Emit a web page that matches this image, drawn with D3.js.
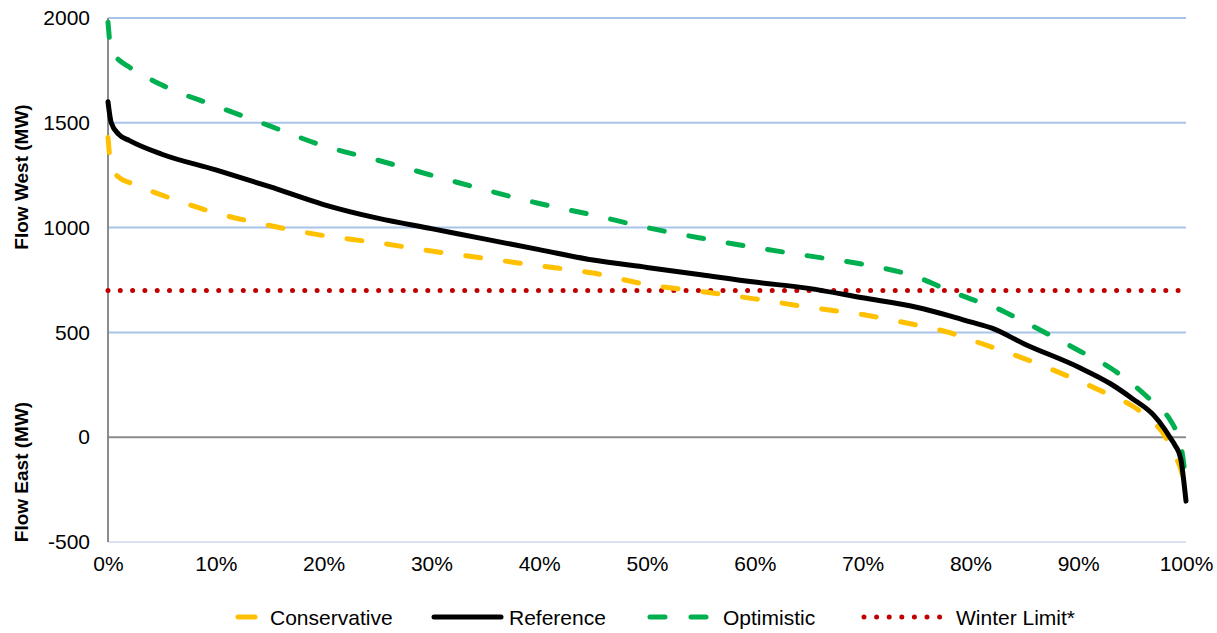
<!DOCTYPE html>
<html>
<head>
<meta charset="utf-8">
<script src="https://cdn.jsdelivr.net/npm/d3@7"></script>
<style>
  html, body { margin: 0; padding: 0; background: #fff; }
  svg { display: block; }
  text { font-family: "Liberation Sans", Arial, sans-serif; fill: #000; }
</style>
</head>
<body>
<svg id="chart" width="1217" height="633"></svg>
<script>
// ---- data ----
const percentiles = [0, 0.3, 1, 2, 5, 10, 15, 20, 25, 30, 35, 40, 45, 50, 55, 60, 65, 70, 75, 78, 80, 82, 85, 90, 93, 95, 97, 98, 98.5, 99, 99.5, 100];
const conservative = [1430, 1290, 1240, 1215, 1155, 1070, 1010, 962, 928, 888, 853, 818, 783, 728, 695, 660, 620, 585, 535, 500, 465, 430, 375, 270, 200, 150, 70, 10, -40, -90, -150, -250];
const reference    = [1600, 1500, 1445, 1415, 1350, 1275, 1195, 1110, 1045, 995, 945, 895, 845, 810, 775, 740, 710, 665, 620, 580, 550, 520, 445, 335, 255, 185, 105, 40, 0, -40, -100, -305];
const optimistic   = [1980, 1840, 1800, 1765, 1680, 1580, 1485, 1390, 1322, 1250, 1180, 1115, 1060, 1000, 950, 905, 865, 825, 765, 700, 660, 625, 550, 415, 330, 255, 165, 120, 85, 40, -30, -215];
const winterLimit = 700;
const yTicks = [-500, 0, 500, 1000, 1500, 2000];
const xTicks = [0, 10, 20, 30, 40, 50, 60, 70, 80, 90, 100];
const legendLabels = ["Conservative", "Reference", "Optimistic", "Winter Limit*"];

// ---- layout ----
const svg = d3.select("#chart");
const x = d3.scaleLinear().domain([0, 100]).range([108, 1186]);
const y = d3.scaleLinear().domain([-500, 2000]).range([542, 18]);

const colors = { cons: "#FFC000", ref: "#000000", opt: "#00B050", lim: "#C00000" };
const dashPat = "15,25";
const dotPat = "0,12.3";
const fontSize = "21px";

// gridlines
svg.append("g").selectAll("line").data(yTicks.filter(d => d !== 0)).join("line")
  .attr("x1", x(0)).attr("x2", x(100))
  .attr("y1", d => y(d)).attr("y2", d => y(d))
  .attr("stroke", d => d === -500 ? "#D9E2F3" : "#A9C4EB")
  .attr("stroke-width", 2);

// zero line
svg.append("line").attr("x1", x(0)).attr("x2", x(100))
  .attr("y1", y(0)).attr("y2", y(0))
  .attr("stroke", "#8C8C8C").attr("stroke-width", 2);

// y axis line
svg.append("line").attr("x1", x(0)).attr("x2", x(0))
  .attr("y1", y(2000)).attr("y2", y(-500))
  .attr("stroke", "#8C8C8C").attr("stroke-width", 2);

// y axis tick labels
const yAxis = d3.axisLeft(y).tickValues(yTicks).tickSize(0).tickPadding(0).tickFormat(d => String(d));
const gy = svg.append("g").attr("transform", `translate(${x(0) - 18},0)`).call(yAxis);
gy.select(".domain").remove();
gy.selectAll("text").style("font-size", fontSize).style("font-family", "Liberation Sans, Arial, sans-serif").attr("fill", "#000");

// x axis tick labels
const xAxis = d3.axisBottom(x).tickValues(xTicks).tickSize(0).tickPadding(0).tickFormat(d => d + "%");
const gx = svg.append("g").attr("transform", `translate(0,${y(-500) + 14})`).call(xAxis);
gx.select(".domain").remove();
gx.selectAll("text").style("font-size", fontSize).style("font-family", "Liberation Sans, Arial, sans-serif").attr("fill", "#000");

// axis titles
svg.append("text").attr("transform", `translate(28,${177}) rotate(-90)`)
  .attr("text-anchor", "middle").style("font-size", "19px").style("font-weight", "bold")
  .text("Flow West (MW)");
svg.append("text").attr("transform", `translate(28,${472}) rotate(-90)`)
  .attr("text-anchor", "middle").style("font-size", "19px").style("font-weight", "bold")
  .text("Flow East (MW)");

// winter limit
svg.append("line").attr("x1", x(0)).attr("x2", x(100))
  .attr("y1", y(winterLimit)).attr("y2", y(winterLimit))
  .attr("stroke", colors.lim).attr("stroke-width", 5)
  .attr("stroke-linecap", "round").attr("stroke-dasharray", dotPat);

// series lines
const line = d3.line().x(d => x(d[0])).y(d => y(d[1])).curve(d3.curveMonotoneX);
const mk = vals => percentiles.map((p, i) => [p, vals[i]]);

svg.append("path").datum(mk(conservative)).attr("d", line)
  .attr("fill", "none").attr("stroke", colors.cons).attr("stroke-width", 5)
  .attr("stroke-linecap", "round").attr("stroke-dasharray", dashPat);
svg.append("path").datum(mk(optimistic)).attr("d", line)
  .attr("fill", "none").attr("stroke", colors.opt).attr("stroke-width", 5)
  .attr("stroke-linecap", "round").attr("stroke-dasharray", dashPat);
svg.append("path").datum(mk(reference)).attr("d", line)
  .attr("fill", "none").attr("stroke", colors.ref).attr("stroke-width", 5)
  .attr("stroke-linecap", "round").attr("stroke-linejoin", "round");

// legend
const ly = 617;
const lg = svg.append("g");
// Conservative
lg.append("line").attr("x1", 238).attr("x2", 255).attr("y1", ly).attr("y2", ly)
  .attr("stroke", colors.cons).attr("stroke-width", 5).attr("stroke-linecap", "round");
lg.append("text").attr("x", 270).attr("y", ly + 7.5).style("font-size", fontSize).text(legendLabels[0]);
// Reference
lg.append("line").attr("x1", 434).attr("x2", 501).attr("y1", ly).attr("y2", ly)
  .attr("stroke", colors.ref).attr("stroke-width", 5).attr("stroke-linecap", "round");
lg.append("text").attr("x", 509).attr("y", ly + 7.5).style("font-size", fontSize).text(legendLabels[1]);
// Optimistic
lg.append("line").attr("x1", 650).attr("x2", 706).attr("y1", ly).attr("y2", ly)
  .attr("stroke", colors.opt).attr("stroke-width", 5).attr("stroke-linecap", "round")
  .attr("stroke-dasharray", "15,26");
lg.append("text").attr("x", 723).attr("y", ly + 7.5).style("font-size", fontSize).text(legendLabels[2]);
// Winter Limit
lg.append("line").attr("x1", 864).attr("x2", 940).attr("y1", ly).attr("y2", ly)
  .attr("stroke", colors.lim).attr("stroke-width", 5).attr("stroke-linecap", "round")
  .attr("stroke-dasharray", "0,12.6");
lg.append("text").attr("x", 956).attr("y", ly + 7.5).style("font-size", fontSize).text(legendLabels[3]);
</script>
</body>
</html>
